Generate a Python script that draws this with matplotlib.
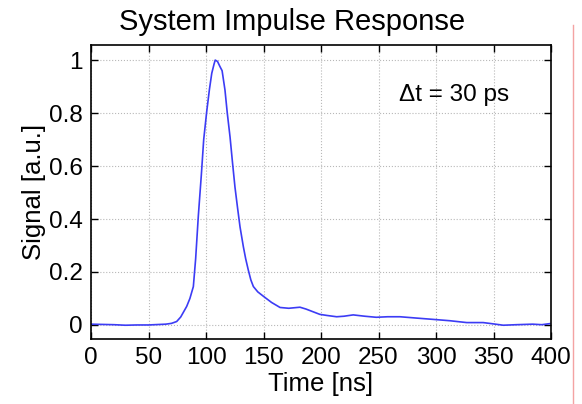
import matplotlib
matplotlib.use("Agg")
import matplotlib.pyplot as plt
from matplotlib.lines import Line2D

plt.rcParams.update({
    "font.family": ["Liberation Sans", "DejaVu Sans"],
    "font.size": 17.5,
})

# Impulse response (time in ns, signal in a.u.)
time_ns = [0, 10, 20, 30, 40, 50, 60, 65, 70, 74.5, 78, 83.2, 86, 89, 91, 93.3, 96, 98,
           100.6, 103, 105, 107, 108, 110, 112.2, 114, 116.5, 118.5, 120.9, 123, 125.2,
           127.5, 129.6, 132.5, 134.5, 136.8, 139, 141.2, 145, 150, 157, 164.4, 172,
           181.7, 187, 193, 199, 205, 213.6, 220, 228, 238, 248, 258, 268.7, 283,
           297.7, 312, 326.7, 341, 350, 358.5, 370, 384, 392, 399]
signal = [0.003, 0.002, 0.001, -0.001, 0.0, 0.0, 0.002, 0.003, 0.006, 0.013, 0.03,
          0.07, 0.1, 0.145, 0.25, 0.41, 0.57, 0.7, 0.805, 0.89, 0.95, 0.985, 1.0, 0.995,
          0.975, 0.96, 0.887, 0.8, 0.71, 0.615, 0.52, 0.44, 0.37, 0.295, 0.25, 0.207,
          0.17, 0.145, 0.125, 0.108, 0.085, 0.066, 0.063, 0.067, 0.06, 0.05, 0.04, 0.036,
          0.031, 0.033, 0.038, 0.033, 0.029, 0.031, 0.031, 0.026, 0.021, 0.016, 0.009,
          0.009, 0.004, -0.001, 0.001, 0.003, 0.001, 0.005]

xticks = [0, 50, 100, 150, 200, 250, 300, 350, 400]
yticks = [0, 0.2, 0.4, 0.6, 0.8, 1]
ytick_labels = ["0", "0.2", "0.4", "0.6", "0.8", "1"]

fig = plt.figure(figsize=(5.82, 4.04), dpi=100)
ax = fig.add_axes([91 / 582, 1 - 339 / 404, 460 / 582, 294 / 404])

ax.plot(time_ns, signal, color="#3c3cf5", linewidth=1.2)

ax.set_xlim(0, 400)
ax.set_ylim(-0.053, 1.057)
ax.set_xticks(xticks)
ax.set_yticks(yticks)
ax.set_yticklabels(ytick_labels)
ax.grid(True, linestyle=":", color="#b8b8b8", linewidth=0.8)
ax.tick_params(direction="in", top=True, right=True, length=5, width=1, pad=6)
for s in ax.spines.values():
    s.set_linewidth(1.2)

ax.set_xlabel("Time [ns]", fontsize=18.5, labelpad=2)
ax.set_ylabel("Signal [a.u.]", fontsize=18.5, labelpad=2)
# title sits centred on the slide, not on the axes
fig.text(292 / 582, 1 - 22 / 404, "System Impulse Response", fontsize=21,
         ha="center", va="center")
ax.text(268, 0.87, "\u0394t = 30 ps", fontsize=17.5, va="center")

# thin red rule at the right edge of the slide
fig.add_artist(Line2D([573 / 582, 573 / 582], [0, 1 - 25 / 404],
                      transform=fig.transFigure, color="#f4a3a3", linewidth=1))

fig.savefig("out.png", dpi=100)
